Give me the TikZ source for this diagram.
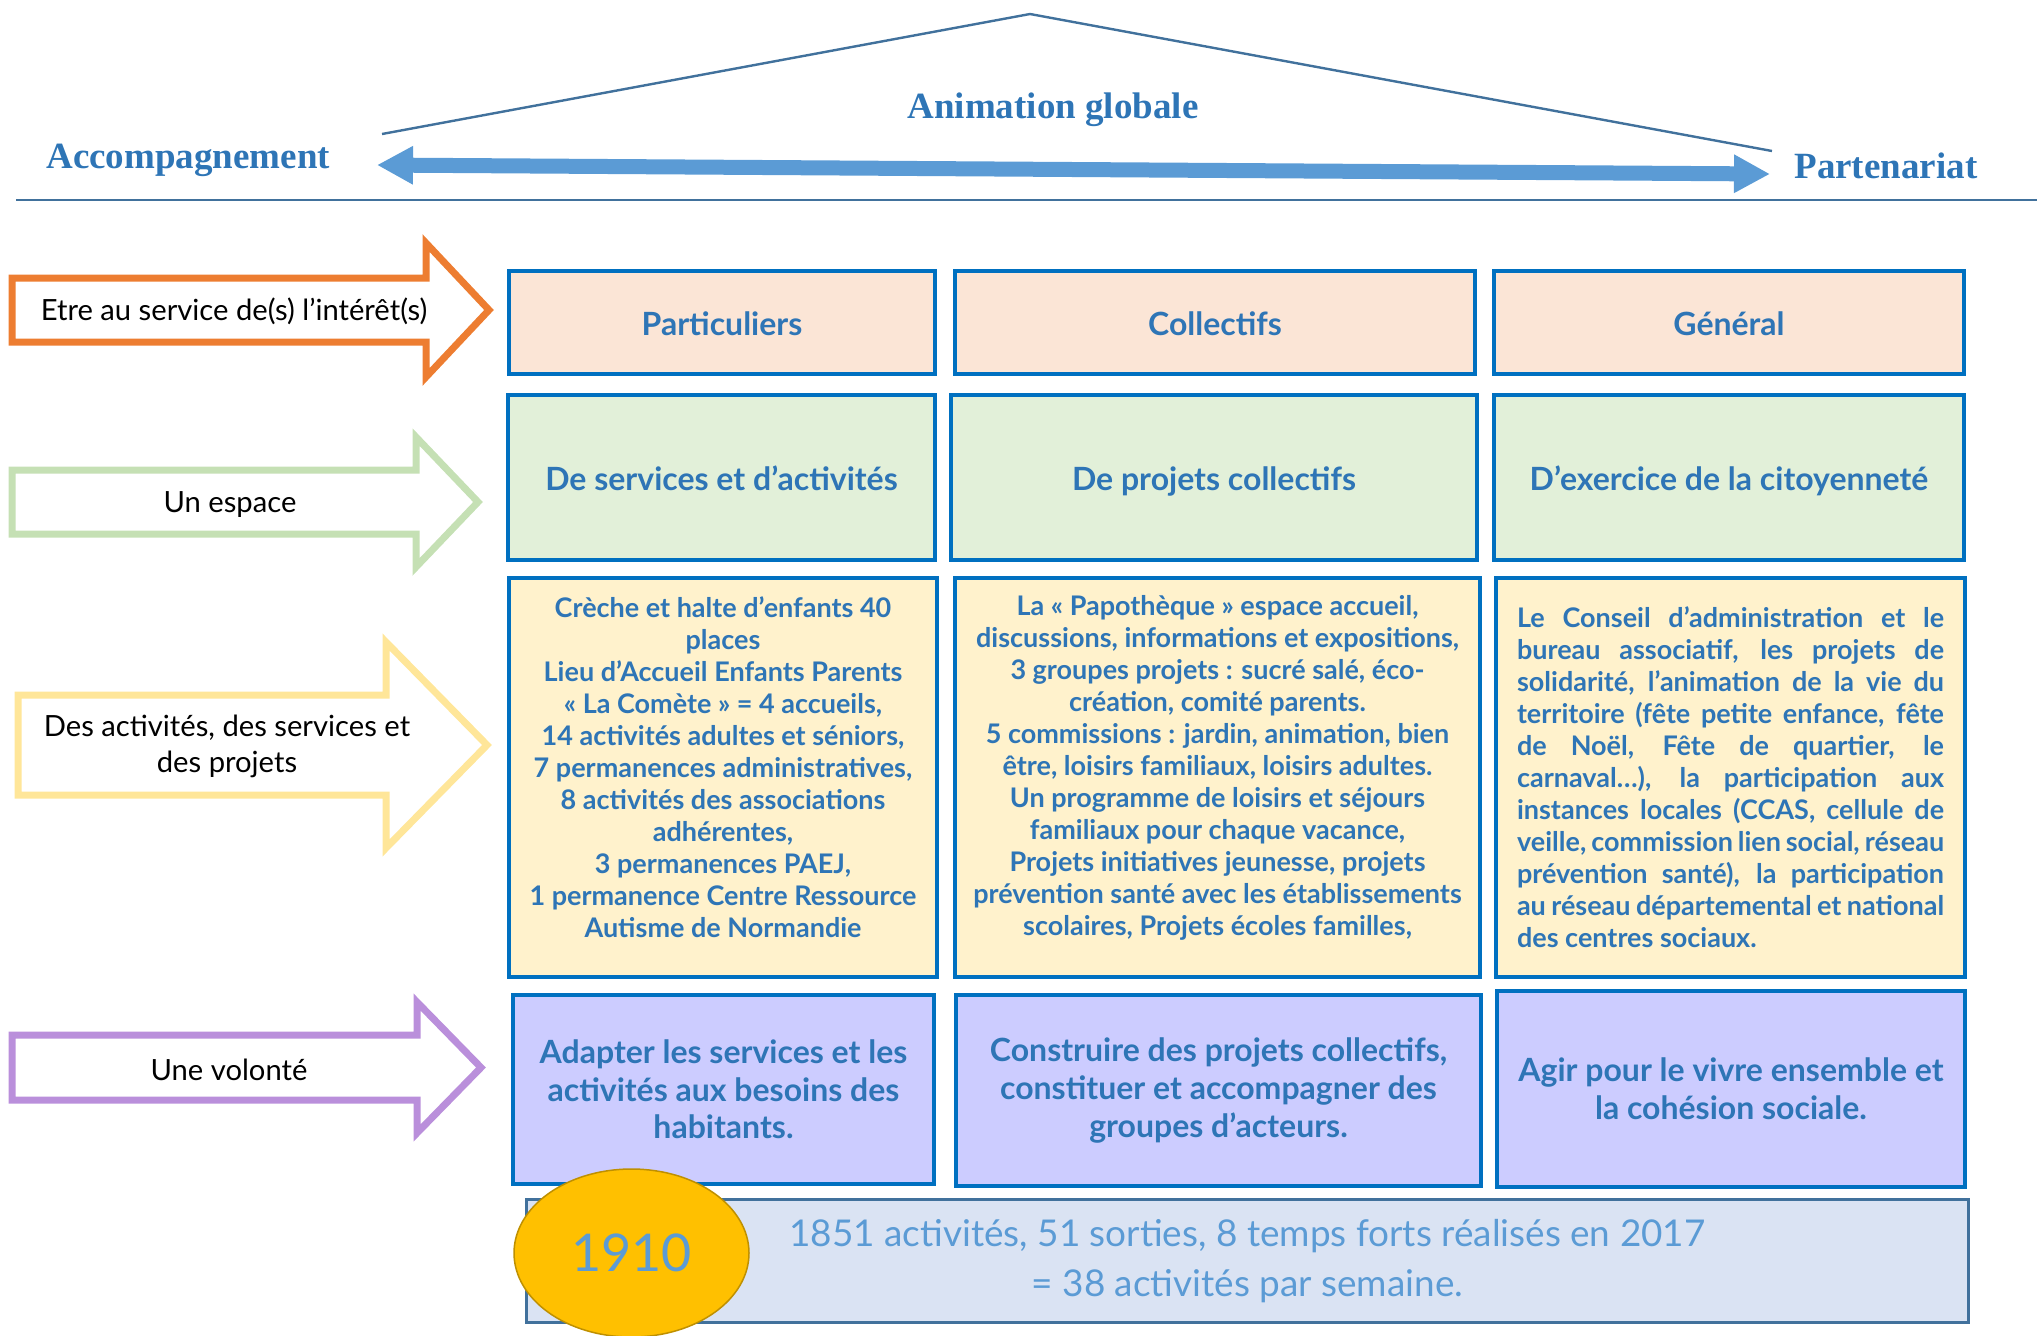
\documentclass[tikz,border=0pt]{standalone}
\usepackage{fontspec}
\setmainfont{Lato}
\newfontfamily\titlefont{Liberation Serif}
\usetikzlibrary{shapes.geometric, arrows.meta}

\definecolor{boxblue}{HTML}{0070C0}
\definecolor{textblue}{HTML}{2E75B6}
\definecolor{steel}{HTML}{41719C}
\definecolor{arrowblue}{HTML}{5B9BD5}
\definecolor{peach}{HTML}{FBE5D6}
\definecolor{palegreen}{HTML}{E2F0D9}
\definecolor{paleyellow}{HTML}{FFF2CC}
\definecolor{lavender}{HTML}{CCCCFF}
\definecolor{paleblue}{HTML}{DAE3F3}
\definecolor{orangearrow}{HTML}{ED7D31}
\definecolor{greenarrow}{HTML}{C5E0B4}
\definecolor{yellowarrow}{HTML}{FFE699}
\definecolor{purplearrow}{HTML}{BA8FDB}
\definecolor{gold}{HTML}{FFC000}
\definecolor{golddark}{HTML}{BF9000}

\newcommand{\jline}[1]{\makebox[213.5pt][s]{#1}}

\begin{document}
\begin{tikzpicture}[x=0.5pt, y=-0.5pt,
  toptitle/.style={inner sep=0pt, text=textblue, font=\titlefont\bfseries\fontsize{18.5}{22}\selectfont},
  blockarrow/.style={line width=3.5pt, fill=white, line join=miter},
  lefttxt/.style={inner sep=0pt, align=center, font=\fontsize{14.6}{18}\selectfont},
  cell/.style={draw=boxblue, line width=2pt, inner sep=0pt, align=center, text=textblue},
  hdr/.style={cell, text height=16pt, text depth=3.5pt, font=\bfseries\fontsize{16}{19}\selectfont},
  detail/.style={cell, fill=paleyellow, minimum height=199.5pt},
  detailtxt/.style={inner sep=0pt, align=center, text=textblue, font=\bfseries\fontsize{13.5}{16}\selectfont},
  goal/.style={cell, fill=lavender, font=\bfseries\fontsize{16}{18.8}\selectfont}]
\useasboundingbox (0,0) rectangle (2037,1335);

% Animation globale
\coordinate (roofL) at (382,134);
\coordinate (roofTop) at (1030,14);
\coordinate (roofR) at (1772,151);
\draw[steel, line width=1.2pt] (roofL) -- (roofTop) -- (roofR);
\node[toptitle, anchor=base] (anim) at (1053,118) {Animation globale};
\node[toptitle, anchor=base west] (acc) at (46,168) {Accompagnement};
\node[toptitle, anchor=base west] (part) at (1794,178) {Partenariat};
\coordinate (axisL) at (377,165);
\coordinate (axisR) at (1770,174);
\draw[arrowblue, line width=7.5pt, {Triangle[length=18pt, width=18pt]}-{Triangle[length=18pt, width=18pt]}] (axisL) -- (axisR);
\coordinate (baseL) at (16,200);
\coordinate (baseR) at (2037,200);
\draw[steel, line width=1.3pt] (baseL) -- (baseR);

% Left arrows
\draw[blockarrow, draw=orangearrow] (12,278) -- (426,278) -- (426,243) -- (489,310) -- (426,377) -- (426,342) -- (12,342) -- cycle;
\node[lefttxt, anchor=base] (serv) at (234,320) {Etre au service de(s) l’intérêt(s)};
\draw[blockarrow, draw=greenarrow] (12,470) -- (416,470) -- (416,437) -- (478,502) -- (416,567) -- (416,534) -- (12,534) -- cycle;
\node[lefttxt, anchor=base] (esp) at (230,512) {Un espace};
\draw[blockarrow, draw=yellowarrow] (18,695) -- (386,695) -- (386,642) -- (487,745) -- (386,848) -- (386,795) -- (18,795) -- cycle;
\node[lefttxt] (act) at (227,746) {Des activités, des services et\\des projets};
\draw[blockarrow, draw=purplearrow] (12,1035) -- (417,1035) -- (417,1002) -- (481,1067.5) -- (417,1133) -- (417,1100) -- (12,1100) -- cycle;
\node[lefttxt, anchor=base] (vol) at (229,1080) {Une volonté};

% Row 1
\node[hdr, fill=peach, minimum width=213pt, minimum height=51.5pt] (partic) at (722,322.5) {Particuliers};
\node[hdr, fill=peach, minimum width=260pt, minimum height=51.5pt] (collec) at (1215,322.5) {Collectifs};
\node[hdr, fill=peach, minimum width=235pt, minimum height=51.5pt] (gener) at (1729,322.5) {Général};

% Row 2
\node[hdr, fill=palegreen, minimum width=213.5pt, minimum height=82.5pt] (serv2) at (721.5,477.5) {De services et d’activités};
\node[hdr, fill=palegreen, minimum width=263pt, minimum height=82.5pt] (proj2) at (1214,477.5) {De projets collectifs};
\node[hdr, fill=palegreen, minimum width=235pt, minimum height=82.5pt] (citoy2) at (1729,477.5) {D’exercice de la citoyenneté};

% Row 3
\node[detail, minimum width=214pt] (det1) at (723,777.5) {};
\node[detail, minimum width=262.5pt] (det2) at (1217.5,777.5) {};
\node[detail, minimum width=234.5pt] (det3) at (1730.5,777.5) {};
\node[detailtxt] (txt1) at ([yshift=5pt]det1.center) {Crèche et halte d’enfants 40\\places\\Lieu d’Accueil Enfants Parents\\«~La Comète~» = 4 accueils,\\14 activités adultes et séniors,\\7 permanences administratives,\\8 activités des associations\\adhérentes,\\3 permanences PAEJ,\\1 permanence Centre Ressource\\Autisme de Normandie};
\node[detailtxt] (txt2) at ([yshift=5pt]det2.center) {La «~Papothèque~» espace accueil,\\discussions, informations et expositions,\\3 groupes projets : sucré salé, éco-\\création, comité parents.\\5 commissions : jardin, animation, bien\\être, loisirs familiaux, loisirs adultes.\\Un programme de loisirs et séjours\\familiaux pour chaque vacance,\\Projets initiatives jeunesse, projets\\prévention santé avec les établissements\\scolaires, Projets écoles familles,};
\node[detailtxt, align=left] (txt3) at (det3.center) {\jline{Le Conseil d’administration et le}\\\jline{bureau associatif, les projets de}\\\jline{solidarité, l’animation de la vie du}\\\jline{territoire (fête petite enfance, fête}\\\jline{de Noël, Fête de quartier, le}\\\jline{carnaval…), la participation aux}\\\jline{instances locales (CCAS, cellule de}\\\jline{veille, commission lien social, réseau}\\\jline{prévention santé), la participation}\\\jline{au réseau départemental et national}\\des centres sociaux.};

% Row 4
\node[goal, minimum width=210.5pt, minimum height=94.5pt] (goal1) at (723.5,1089.5) {Adapter les services et les\\activités aux besoins des\\habitants.};
\node[goal, minimum width=262.5pt, minimum height=95.5pt] (goal2) at (1218.5,1090.5) {Construire des projets collectifs,\\constituer et accompagner des\\groupes d’acteurs.};
\node[goal, minimum width=234pt, minimum height=98pt] (goal3) at (1731,1089) {Agir pour le vivre ensemble et\\la cohésion sociale.};

% Bilan
\node[draw=steel, fill=paleblue, line width=1.25pt, inner sep=0pt, minimum width=721pt, minimum height=61.5pt, align=center, text=arrowblue, font=\fontsize{18.45}{25}\selectfont] (bilan) at (1247.5,1261) {1851 activités, 51 sorties, 8 temps forts réalisés en 2017\\= 38 activités par semaine.};
\node[ellipse, draw=golddark, fill=gold, line width=0.75pt, inner sep=0pt, minimum width=117.5pt, minimum height=84pt, text=arrowblue, font=\fontsize{26}{30}\selectfont] (total) at (631.5,1253) {1910};
\end{tikzpicture}
\end{document}
